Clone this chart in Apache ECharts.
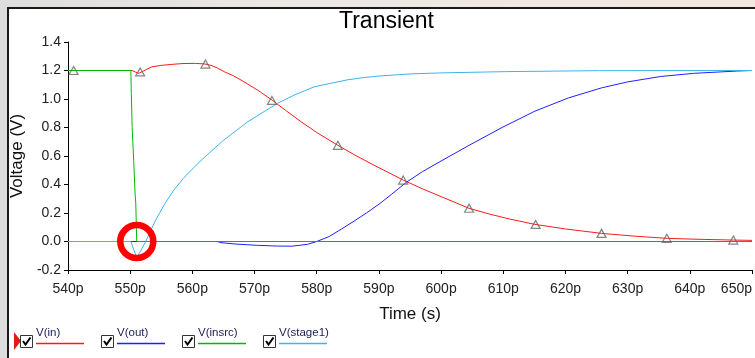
<!DOCTYPE html>
<html>
<head>
<meta charset="utf-8">
<script src="https://cdn.jsdelivr.net/npm/echarts@6/dist/echarts.min.js"></script>
<style>
html,body{margin:0;padding:0;width:755px;height:358px;overflow:hidden;
 background:linear-gradient(90deg,#dedede 0%,#ece8e4 40%,#f3e8df 100%);}
#frame{position:absolute;left:7px;top:7px;width:800px;height:400px;background:#fff;border:2px solid #1a1a1a;box-sizing:border-box;}
#chart{position:absolute;left:0;top:0;width:755px;height:358px;}
</style>
</head>
<body>
<div id="frame"></div>
<div id="chart"></div>
<script>
// ---- data ----
const seriesNames = ['V(in)', 'V(out)', 'V(insrc)', 'V(stage1)'];
const xTicks = [540, 550, 560, 570, 580, 590, 600, 610, 620, 630, 640, 650];
const yTicks = [-0.2, 0, 0.2, 0.4, 0.6, 0.8, 1.0, 1.2, 1.4];

const inT = [540, 550.3, 550.8, 551.4, 552.5, 553.5, 555, 556.7, 558.5, 560.5, 562, 563, 564, 565.2, 566.5, 568.15, 570.5, 572.9, 575, 577.5, 580, 583.4, 586, 589, 591.5, 593.9, 597, 600, 604.5, 608, 611, 615.1, 620, 625.8, 631, 636.4, 641, 647, 650];
const inV = [1.2, 1.2, 1.19, 1.18, 1.205, 1.226, 1.236, 1.243, 1.249, 1.25, 1.246, 1.236, 1.218, 1.19, 1.165, 1.125, 1.062, 0.99, 0.92, 0.84, 0.765, 0.675, 0.61, 0.54, 0.485, 0.431, 0.37, 0.315, 0.233, 0.19, 0.158, 0.12, 0.088, 0.057, 0.038, 0.022, 0.016, 0.01, 0.008];

const markT = [540.9, 551.6, 562.1, 572.8, 583.4, 593.9, 604.5, 615.2, 625.8, 636.3, 647.0];
const markV = [1.2, 1.19, 1.245, 0.99, 0.675, 0.431, 0.233, 0.12, 0.057, 0.022, 0.01];

const outT = [540, 564.0, 564.6, 567, 570.5, 573.7, 576, 578.5, 580, 582, 584, 586, 588, 590.2, 592, 594.4, 597, 600, 604.5, 609.8, 615.1, 620.5, 625.8, 630, 635.3, 640.6, 647.5, 650];
const outV = [0, 0, -0.008, -0.018, -0.027, -0.032, -0.033, -0.02, 0, 0.035, 0.088, 0.143, 0.2, 0.268, 0.33, 0.415, 0.49, 0.565, 0.675, 0.8, 0.915, 1.008, 1.078, 1.12, 1.158, 1.18, 1.196, 1.2];

const insrcT = [540, 550.1, 550.18, 550.32, 550.56, 550.78, 550.9, 551.05, 650];
const insrcV = [1.2, 1.2, 1.04, 0.8, 0.57, 0.34, 0.27, 0, 0];

const stageT = [540, 550.1, 551.06, 552.5, 554.08, 555.5, 557, 558.5, 559.9, 562.05, 565, 568.9, 573.7, 576.5, 579.57, 582, 584.88, 587.5, 590.2, 595.5, 600.8, 610.4, 625.5, 650];
const stageV = [0, 0, -0.115, 0, 0.15, 0.26, 0.36, 0.44, 0.505, 0.595, 0.71, 0.84, 0.97, 1.03, 1.085, 1.108, 1.134, 1.15, 1.162, 1.177, 1.184, 1.192, 1.199, 1.2];

const circleAt = [551.06, 0];

// ---- styles ----
const colors = ['#ff1a1a', '#2020ff', '#00bb00', '#3cb4ee'];
const FONT = 'Liberation Sans, Arial, sans-serif';

const zip = (a, b) => a.map((v, i) => [v, b[i]]);

const chart = echarts.init(document.getElementById('chart'), null, {renderer: 'canvas'});

const legendGraphics = [];
legendGraphics.push({type: 'polygon', shape: {points: [[14, 332], [14, 350], [21, 341]]}, style: {fill: '#e81818'}, z: 100});
seriesNames.forEach((name, i) => {
  const bx = 20 + i * 81;
  legendGraphics.push({type: 'rect', shape: {x: bx + 0.5, y: 335.5, width: 12, height: 12}, style: {fill: '#fff', stroke: '#333', lineWidth: 1}, z: 100});
  legendGraphics.push({type: 'polyline', shape: {points: [[bx + 3, 341], [bx + 5.5, 344.5], [bx + 10.5, 337.5]]}, style: {stroke: '#000', lineWidth: 2, fill: null}, z: 101});
  legendGraphics.push({type: 'text', x: bx + 16, y: 327, style: {text: name, fill: '#1c1c50', font: '11.5px ' + FONT, textVerticalAlign: 'top'}, z: 100});
  legendGraphics.push({type: 'line', shape: {x1: bx + 16, y1: 343.5, x2: bx + 64, y2: 343.5}, style: {stroke: colors[i], lineWidth: 1.5}, z: 100});
});
legendGraphics.push({type: 'text', x: 386.5, y: 10, style: {text: 'Transient', fill: '#000', font: '23px ' + FONT, textAlign: 'center', textVerticalAlign: 'top'}, z: 100});

const lineSeries = (name, t, v, color, z) => ({
  name: name, type: 'line', data: zip(t, v), showSymbol: false, symbol: 'none', z: z,
  smooth: false, lineStyle: {color: color, width: 1}, itemStyle: {color: color}, animation: false
});

const option = {
  backgroundColor: 'transparent',
  animation: false,
  textStyle: {fontFamily: FONT},
  grid: {left: 68, top: 42, width: 690.5, height: 228, containLabel: false},
  xAxis: {
    type: 'value', min: xTicks[0], max: xTicks[xTicks.length - 1], interval: 10,
    name: 'Time (s)', nameLocation: 'middle', nameGap: 36,
    nameTextStyle: {fontSize: 17, color: '#111', fontFamily: FONT},
    axisLine: {show: true, onZero: false, lineStyle: {color: '#000', width: 1}},
    axisTick: {show: true, length: 4, lineStyle: {color: '#000'}},
    axisLabel: {fontSize: 14, color: '#222', margin: 12, fontFamily: FONT, alignMaxLabel: 'right', formatter: v => v + 'p'},
    splitLine: {show: false}
  },
  yAxis: {
    type: 'value', min: yTicks[0], max: yTicks[yTicks.length - 1], interval: 0.2,
    name: 'Voltage (V)', nameLocation: 'middle', nameGap: 27, nameRotate: 90,
    nameTextStyle: {fontSize: 17, color: '#111', fontFamily: FONT},
    axisLine: {show: true, lineStyle: {color: '#000', width: 1}},
    axisTick: {show: true, length: 4, lineStyle: {color: '#000'}},
    axisLabel: {fontSize: 14, color: '#222', margin: 7, fontFamily: FONT, formatter: v => v.toFixed(1)},
    splitLine: {show: false}
  },
  graphic: legendGraphics,
  series: [
    lineSeries(seriesNames[0], inT, inV, colors[0], 2),
    lineSeries(seriesNames[1], outT, outV, colors[1], 2),
    lineSeries(seriesNames[2], insrcT, insrcV, colors[2], 3),
    Object.assign(lineSeries(seriesNames[3], stageT, stageV, colors[3], 3), {
      markPoint: {
        symbol: 'circle', symbolSize: 33, silent: true,
        data: [{coord: circleAt}],
        itemStyle: {color: 'rgba(0,0,0,0)', borderColor: '#ff0000', borderWidth: 6.5},
        label: {show: false}
      }
    }),
    {
      name: 'markers', type: 'scatter', data: zip(markT, markV), symbol: 'triangle', symbolSize: [9, 8],
      itemStyle: {color: 'rgba(255,255,255,0)', borderColor: '#666', borderWidth: 1.2}, z: 5, animation: false
    }
  ]
};
chart.setOption(option);
</script>
</body>
</html>
